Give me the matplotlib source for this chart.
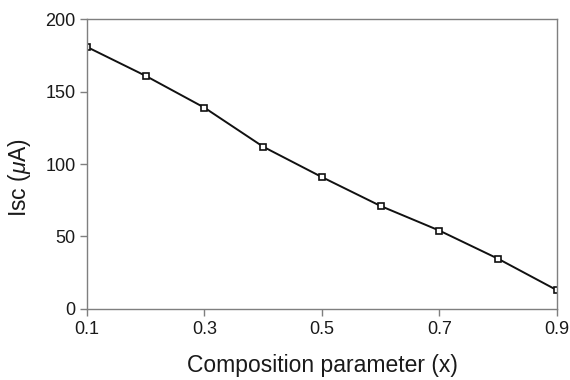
import matplotlib
matplotlib.use('Agg')
import matplotlib.pyplot as plt

# composition parameter vs short-circuit current
x_values = [0.1, 0.2, 0.3, 0.4, 0.5, 0.6, 0.7, 0.8, 0.9]
isc_values = [181, 161, 139, 112, 91, 71, 54, 34.5, 12.8]
x_ticks = [0.1, 0.3, 0.5, 0.7, 0.9]
y_ticks = [0, 50, 100, 150, 200]

plt.rcParams['font.family'] = ['Liberation Sans', 'DejaVu Sans']
plt.rcParams['mathtext.fontset'] = 'custom'
plt.rcParams['mathtext.it'] = 'Liberation Sans:italic'

fig = plt.figure(figsize=(5.7, 3.8), dpi=100)
ax = fig.add_axes([0.1526, 0.1876, 0.8245, 0.7611])

ax.plot(x_values, isc_values, color='#111111', linewidth=1.4,
        marker='s', markersize=4.5, markerfacecolor='white',
        markeredgecolor='#111111', markeredgewidth=1.2)

ax.set_xlim(0.1, 0.9)
ax.set_ylim(0, 200)
ax.set_xticks(x_ticks)
ax.set_xticklabels(['0.1', '0.3', '0.5', '0.7', '0.9'])
ax.set_yticks(y_ticks)

for side in ['left', 'right', 'top', 'bottom']:
    ax.spines[side].set_color('#7f7f7f')
    ax.spines[side].set_linewidth(1.0)

ax.tick_params(direction='out', length=5, width=1, color='#7f7f7f',
               labelsize=13, labelcolor='#1a1a1a', pad=3)
ax.tick_params(axis='x', pad=4)

ax.set_xlabel('Composition parameter (x)', fontsize=16.5, color='#1a1a1a')
ax.set_ylabel(r'Isc ($\mu$A)', fontsize=16.5, color='#1a1a1a')
# label placement (axes fractions)
ax.xaxis.set_label_coords(0.5, -0.158)
ax.yaxis.set_label_coords(-0.115, 0.455)

fig.savefig('out.png', dpi=100)
